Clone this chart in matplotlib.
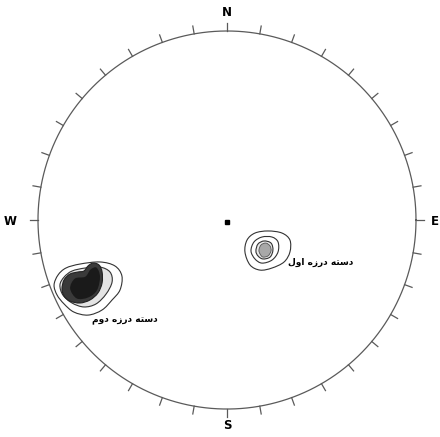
import numpy as np
import matplotlib.pyplot as plt
from matplotlib.path import Path
from matplotlib.patches import PathPatch

# contour outlines (unit circle coordinates)
left_outer_x = [-0.915, -0.894, -0.852, -0.778, -0.672, -0.593, -0.556, -0.566, -0.608, -0.661, -0.735, -0.810, -0.862, -0.899]
left_outer_y = [-0.344, -0.291, -0.254, -0.233, -0.222, -0.243, -0.296, -0.370, -0.423, -0.476, -0.503, -0.487, -0.444, -0.397]
left_mid_x = [-0.884, -0.862, -0.820, -0.751, -0.672, -0.619, -0.608, -0.640, -0.693, -0.757, -0.820, -0.868]
left_mid_y = [-0.344, -0.302, -0.270, -0.254, -0.249, -0.275, -0.328, -0.392, -0.444, -0.460, -0.439, -0.397]
left_dark_x = [-0.873, -0.862, -0.831, -0.788, -0.757, -0.735, -0.709, -0.677, -0.661, -0.661, -0.683, -0.725, -0.778, -0.831, -0.862]
left_dark_y = [-0.365, -0.317, -0.286, -0.275, -0.270, -0.243, -0.228, -0.238, -0.275, -0.333, -0.386, -0.423, -0.439, -0.429, -0.402]
left_core_x = [-0.830, -0.805, -0.750, -0.722, -0.690, -0.672, -0.688, -0.735, -0.795]
left_core_y = [-0.362, -0.310, -0.300, -0.262, -0.252, -0.300, -0.372, -0.410, -0.415]

right_outer_x = [0.095, 0.106, 0.148, 0.217, 0.291, 0.333, 0.333, 0.302, 0.238, 0.175, 0.122]
right_outer_y = [-0.169, -0.106, -0.069, -0.058, -0.069, -0.106, -0.169, -0.222, -0.254, -0.265, -0.238]
right_mid_x = [0.127, 0.143, 0.185, 0.238, 0.270, 0.270, 0.238, 0.185, 0.148]
right_mid_y = [-0.164, -0.116, -0.090, -0.090, -0.116, -0.169, -0.212, -0.228, -0.206]
right_in_x = [0.153, 0.164, 0.196, 0.233, 0.243, 0.228, 0.190, 0.164]
right_in_y = [-0.164, -0.127, -0.111, -0.122, -0.159, -0.196, -0.206, -0.190]
right_core_x = [0.169, 0.180, 0.206, 0.228, 0.233, 0.217, 0.190, 0.175]
right_core_y = [-0.159, -0.132, -0.122, -0.138, -0.164, -0.190, -0.196, -0.180]

# labels (Persian, shaped glyphs in display order)
label_set1 = '\uFEDD\uFEED\uFE8D \uFEE9\uFEAF\uFEAD\uFEA9 \uFEEA\uFE98\uFEB3\uFEA9'   # دسته درزه اول
label_set2 = '\uFEE1\uFEED\uFEA9 \uFEE9\uFEAF\uFEAD\uFEA9 \uFEEA\uFE98\uFEB3\uFEA9'   # دسته درزه دوم
label_pos = [(0.495, -0.222), (-0.54, -0.53)]
directions = ['N', 'E', 'S', 'W']
tick_step = 10


def smooth_patch(xs, ys, **kw):
    # closed cardinal curve through the outline points
    p = np.column_stack([xs, ys])
    n = len(p)
    verts = [p[0]]
    codes = [Path.MOVETO]
    for i in range(n):
        p0, p1, p2, p3 = p[i - 1], p[i], p[(i + 1) % n], p[(i + 2) % n]
        verts += [p1 + (p2 - p0) / 6, p2 - (p3 - p1) / 6, p2]
        codes += [Path.CURVE4] * 3
    return PathPatch(Path(verts, codes), **kw)


fig = plt.figure(figsize=(4.4, 4.37), dpi=100)
ax = fig.add_axes([0, 0, 1, 1])
ax.set_xlim(-1.201, 1.127)
ax.set_ylim(-1.148, 1.164)
ax.axis('off')

# primitive circle and 10 degree ticks
t = np.linspace(0, 2 * np.pi, 400)
ax.plot(np.cos(t), np.sin(t), color='#5a5a5a', lw=0.9)
for az in range(0, 360, tick_step):
    a = np.radians(az)
    ax.plot([np.sin(a), 1.042 * np.sin(a)], [np.cos(a), 1.042 * np.cos(a)], color='#5a5a5a', lw=0.9)

ax.text(0, 1.10, 'N', ha='center', va='center', fontsize=8.5, fontweight='bold')
ax.text(0, -1.085, 'S', ha='center', va='center', fontsize=8.5, fontweight='bold')
ax.text(-1.148, -0.01, 'W', ha='center', va='center', fontsize=8.5, fontweight='bold')
ax.text(1.079, -0.01, 'E', ha='left', va='center', fontsize=8.5, fontweight='bold')

ax.plot(0, -0.01, 's', color='black', markersize=3)

# set 2 (west)
ax.add_patch(smooth_patch(left_outer_x, left_outer_y, facecolor='white', edgecolor='#333333', lw=0.8))
ax.add_patch(smooth_patch(left_mid_x, left_mid_y, facecolor='#e4e4e4', edgecolor='#333333', lw=0.8))
ax.add_patch(smooth_patch(left_dark_x, left_dark_y, facecolor='#3a3a3a', edgecolor='#222222', lw=0.8))
ax.add_patch(smooth_patch(left_core_x, left_core_y, facecolor='#1a1a1a', edgecolor='none'))

# set 1 (east)
ax.add_patch(smooth_patch(right_outer_x, right_outer_y, facecolor='white', edgecolor='#333333', lw=0.8))
ax.add_patch(smooth_patch(right_mid_x, right_mid_y, facecolor='white', edgecolor='#333333', lw=0.8))
ax.add_patch(smooth_patch(right_in_x, right_in_y, facecolor='#e8e8e8', edgecolor='#333333', lw=0.8))
ax.add_patch(smooth_patch(right_core_x, right_core_y, facecolor='#a8a8a8', edgecolor='#555555', lw=0.6))

for (lx, ly), lab in zip(label_pos, [label_set1, label_set2]):
    ax.text(lx, ly, lab, ha='center', va='center', fontsize=6.5, fontweight='bold',
            family=['DejaVu Sans'])

fig.savefig('out.png', dpi=100)
